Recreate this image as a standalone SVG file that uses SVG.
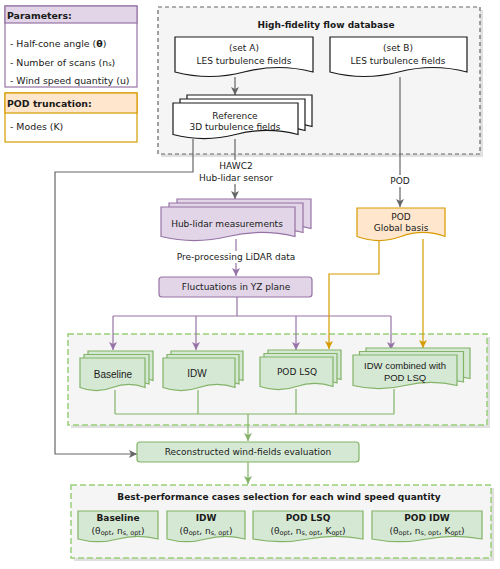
<svg xmlns="http://www.w3.org/2000/svg" xmlns:xlink="http://www.w3.org/1999/xlink" width="500" height="569" viewBox="0 0 500 569">
<style>
text{font-family:"DejaVu Sans","Verdana",sans-serif;font-size:9px;fill:#1a1a1a;text-anchor:middle;dominant-baseline:central}
.b{font-weight:bold}
.l{text-anchor:start}
.lg{font-size:9.4px}
.ar{font-family:"Liberation Sans",Arial,sans-serif;font-size:10px}
.sub{font-size:6.5px}
.wdoc{fill:#ffffff;stroke:#1a1a1a;stroke-width:1.2}
.pdoc{fill:#e1d5e7;stroke:#9673a6;stroke-width:1.2}
.odoc{fill:#ffe6cc;stroke:#d79b00;stroke-width:1.2}
.gdoc{fill:#d5e8d4;stroke:#82b366;stroke-width:1.2}
.gray{fill:none;stroke:#666666;stroke-width:1.2}
.pur{fill:none;stroke:#9673a6;stroke-width:1.2}
.ora{fill:none;stroke:#d79b00;stroke-width:1.2}
.grn{fill:none;stroke:#82b366;stroke-width:1.2}
.lbg{fill:#ffffff}
.shadow{fill:#bbbbbb;opacity:0.45}
</style>
<defs>
<marker id="mGray" markerUnits="userSpaceOnUse" markerWidth="9" markerHeight="9" refX="8" refY="4" orient="auto" viewBox="0 0 9 8"><path d="M0,0 L8,4 L0,8 L2,4 Z" fill="#666666"/></marker>
<marker id="mPur" markerUnits="userSpaceOnUse" markerWidth="9" markerHeight="9" refX="8" refY="4" orient="auto" viewBox="0 0 9 8"><path d="M0,0 L8,4 L0,8 L2,4 Z" fill="#9673a6"/></marker>
<marker id="mOra" markerUnits="userSpaceOnUse" markerWidth="9" markerHeight="9" refX="8" refY="4" orient="auto" viewBox="0 0 9 8"><path d="M0,0 L8,4 L0,8 L2,4 Z" fill="#d79b00"/></marker>
<marker id="mGrn" markerUnits="userSpaceOnUse" markerWidth="9" markerHeight="9" refX="8" refY="4" orient="auto" viewBox="0 0 9 8"><path d="M0,0 L8,4 L0,8 L2,4 Z" fill="#82b366"/></marker>
<path id="refShape" d="M0,0 H125 V31.5 Q93.75,23.4 62.5,31.5 Q31.25,39.6 0,31.5 Z"/>
<path id="hubShape" d="M0,0 H134 V29.5 Q100.5,21.4 67,29.5 Q33.5,37.6 0,29.5 Z"/>
<path id="baseShape" d="M0,0 H65 V29.5 Q48.75,23.2 32.5,29.5 Q16.25,35.8 0,29.5 Z"/>
<path id="idwShape" d="M0,0 H72 V29.5 Q54,23.2 36,29.5 Q18,35.8 0,29.5 Z"/>
<path id="lsqShape" d="M0,0 H73 V29.5 Q54.75,23.2 36.5,29.5 Q18.25,35.8 0,29.5 Z"/>
<path id="combShape" d="M0,0 H104 V30.5 Q78,24.2 52,30.5 Q26,36.8 0,30.5 Z"/>
</defs>

<!-- legend boxes -->
<g id="parameters">
<rect x="5" y="6" width="132" height="81" fill="#ffffff" stroke="#9673a6" stroke-width="1.2"/>
<rect x="5" y="6" width="132" height="17" fill="#e1d5e7" stroke="#9673a6" stroke-width="1.2"/>
<text class="b l lg" x="7" y="15">Parameters:</text>
<text class="l lg" x="10" y="43">- Half-cone angle (<tspan class="b">θ</tspan>)</text>
<text class="l lg" x="10" y="62">- Number of scans (n<tspan class="sub" dy="2">s</tspan><tspan dy="-2">)</tspan></text>
<text class="l lg" x="10" y="80">- Wind speed quantity (u)</text>
</g>
<g id="pod-truncation">
<rect x="5" y="93" width="132" height="49" fill="#ffffff" stroke="#d79b00" stroke-width="1.2"/>
<rect x="5" y="93" width="132" height="20" fill="#ffe6cc" stroke="#d79b00" stroke-width="1.2"/>
<text class="b l lg" x="7" y="103">POD truncation:</text>
<text class="l lg" x="10" y="126">- Modes (K)</text>
</g>

<!-- containers -->
<g id="database">
<rect class="shadow" x="161" y="10" width="322" height="147"/>
<rect x="158" y="7" width="322" height="147" fill="#f5f5f5" stroke="#666666" stroke-width="1.2" stroke-dasharray="4 3"/>
<text class="b" x="326" y="25">High-fidelity flow database</text>
</g>
<g id="methods-container">
<rect class="shadow" x="71" y="337" width="419" height="91"/>
<rect x="68" y="334" width="419" height="91" fill="#f5f5f5" stroke="#97d077" stroke-width="1.5" stroke-dasharray="6 3"/>
</g>

<!-- connectors -->
<g id="connectors">
<path class="gray" d="M235,77 V95" marker-end="url(#mGray)"/>
<path class="gray" d="M235,139 V160 M235,184 V199" marker-end="url(#mGray)"/>
<path class="gray" d="M193,139 V172 H55 V454 H137" marker-end="url(#mGray)"/>
<path class="gray" d="M400,77 V207" marker-end="url(#mGray)"/>
<path class="pur" d="M236,239 V276" marker-end="url(#mPur)"/>
<path class="pur" d="M237,297 V316 M113,316 H391"/>
<path class="pur" d="M113,316 V350" marker-end="url(#mPur)"/>
<path class="pur" d="M196,316 V350" marker-end="url(#mPur)"/>
<path class="pur" d="M296,316 V350" marker-end="url(#mPur)"/>
<path class="pur" d="M391,316 V350" marker-end="url(#mPur)"/>
<path class="ora" d="M379,239 V274 H329 V349" marker-end="url(#mOra)"/>
<path class="ora" d="M423,239 V348" marker-end="url(#mOra)"/>
<path class="grn" d="M115,390 V414 M198,390 V414 M296,389 V414 M394,389 V414 M115,414 H394"/>
<path class="grn" d="M248,414 V441" marker-end="url(#mGrn)"/>
<path class="grn" d="M248,462 V484" marker-end="url(#mGrn)"/>
<rect class="lbg" x="205" y="160" width="62" height="24"/>
<text x="236" y="166">HAWC2</text>
<text x="236" y="178">Hub-lidar sensor</text>
<rect class="lbg" x="386" y="175" width="28" height="12"/>
<text x="400" y="181">POD</text>
<rect class="lbg" x="176" y="251" width="120" height="12"/>
<text x="236" y="257">Pre-processing LiDAR data</text>
</g>

<!-- nodes -->
<g id="setA">
<path class="wdoc" d="M175,37 H313 V72 Q278.5,63 244,72 Q209.5,81 175,72 Z"/>
<text x="244" y="48">(set A)</text>
<text x="244" y="61">LES turbulence fields</text>
</g>
<g id="setB">
<path class="wdoc" d="M330,37 H467 V72 Q432.75,63 398.5,72 Q364.25,81 330,72 Z"/>
<text x="398" y="48">(set B)</text>
<text x="398" y="61">LES turbulence fields</text>
</g>
<g id="reference">
<use href="#refShape" class="wdoc" transform="translate(187,95)"/>
<use href="#refShape" class="wdoc" transform="translate(180,99)"/>
<use href="#refShape" class="wdoc" transform="translate(173,103)"/>
<text x="235" y="116">Reference</text>
<text x="235" y="127">3D turbulence fields</text>
</g>
<g id="hub-lidar">
<use href="#hubShape" class="pdoc" transform="translate(177,199)"/>
<use href="#hubShape" class="pdoc" transform="translate(169,203)"/>
<use href="#hubShape" class="pdoc" transform="translate(161,207)"/>
<text x="227" y="224">Hub-lidar measurements</text>
</g>
<g id="pod-basis">
<path class="odoc" d="M357,208 H445 V236.5 Q423,228.4 401,236.5 Q379,244.6 357,236.5 Z"/>
<text x="401" y="217">POD</text>
<text x="401" y="228">Global basis</text>
</g>
<g id="fluctuations">
<rect x="159" y="277" width="153" height="20" rx="3" fill="#e1d5e7" stroke="#9673a6" stroke-width="1.2"/>
<text x="236" y="287">Fluctuations in YZ plane</text>
</g>
<g id="baseline">
<use href="#baseShape" class="gdoc" transform="translate(88,351)"/>
<use href="#baseShape" class="gdoc" transform="translate(84,354.5)"/>
<use href="#baseShape" class="gdoc" transform="translate(80,358)"/>
<text class="ar" x="113" y="374">Baseline</text>
</g>
<g id="idw">
<use href="#idwShape" class="gdoc" transform="translate(171,351)"/>
<use href="#idwShape" class="gdoc" transform="translate(167,354.5)"/>
<use href="#idwShape" class="gdoc" transform="translate(163,358)"/>
<text class="ar" x="197" y="373">IDW</text>
</g>
<g id="pod-lsq">
<use href="#lsqShape" class="gdoc" transform="translate(268,350)"/>
<use href="#lsqShape" class="gdoc" transform="translate(264,353.5)"/>
<use href="#lsqShape" class="gdoc" transform="translate(260,357)"/>
<text x="297" y="372">POD LSQ</text>
</g>
<g id="idw-combined">
<use href="#combShape" class="gdoc" transform="translate(366,348)"/>
<use href="#combShape" class="gdoc" transform="translate(359.5,351.5)"/>
<use href="#combShape" class="gdoc" transform="translate(353,355)"/>
<text class="ar" x="405" y="365" style="font-size:9.5px">IDW combined with</text>
<text class="ar" x="405" y="377" style="font-size:9.5px">POD LSQ</text>
</g>
<g id="reconstructed">
<rect x="137" y="442" width="222" height="20" rx="3" fill="#d5e8d4" stroke="#82b366" stroke-width="1.2"/>
<text x="248" y="452">Reconstructed wind-fields evaluation</text>
</g>
<g id="best-performance">
<rect class="shadow" x="74" y="488" width="420" height="73"/>
<rect x="71" y="485" width="420" height="73" fill="#f5f5f5" stroke="#97d077" stroke-width="1.5" stroke-dasharray="6 3"/>
<text class="b" x="279" y="497">Best-performance cases selection for each wind speed quantity</text>
</g>
<g id="best-baseline">
<path class="gdoc" d="M78,511 H158 V539 Q138,533.6 118,539 Q98,544.4 78,539 Z"/>
<text class="b" x="118" y="518">Baseline</text>
<text x="118" y="531">(θ<tspan class="sub" dy="2">opt</tspan><tspan dy="-2">, n</tspan><tspan class="sub" dy="2">s, opt</tspan><tspan dy="-2">)</tspan></text>
</g>
<g id="best-idw">
<path class="gdoc" d="M167,511 H245 V539 Q225.5,533.6 206,539 Q186.5,544.4 167,539 Z"/>
<text class="b" x="206" y="518">IDW</text>
<text x="206" y="531">(θ<tspan class="sub" dy="2">opt</tspan><tspan dy="-2">, n</tspan><tspan class="sub" dy="2">s, opt</tspan><tspan dy="-2">)</tspan></text>
</g>
<g id="best-pod-lsq">
<path class="gdoc" d="M253,511 H363 V539 Q335.5,533.6 308,539 Q280.5,544.4 253,539 Z"/>
<text class="b" x="308" y="518">POD LSQ</text>
<text x="308" y="531">(θ<tspan class="sub" dy="2">opt</tspan><tspan dy="-2">, n</tspan><tspan class="sub" dy="2">s, opt</tspan><tspan dy="-2">, K</tspan><tspan class="sub" dy="2">opt</tspan><tspan dy="-2">)</tspan></text>
</g>
<g id="best-pod-idw">
<path class="gdoc" d="M372,511 H482 V539 Q454.5,533.6 427,539 Q399.5,544.4 372,539 Z"/>
<text class="b" x="427" y="518">POD IDW</text>
<text x="427" y="531">(θ<tspan class="sub" dy="2">opt</tspan><tspan dy="-2">, n</tspan><tspan class="sub" dy="2">s, opt</tspan><tspan dy="-2">, K</tspan><tspan class="sub" dy="2">opt</tspan><tspan dy="-2">)</tspan></text>
</g>
</svg>
